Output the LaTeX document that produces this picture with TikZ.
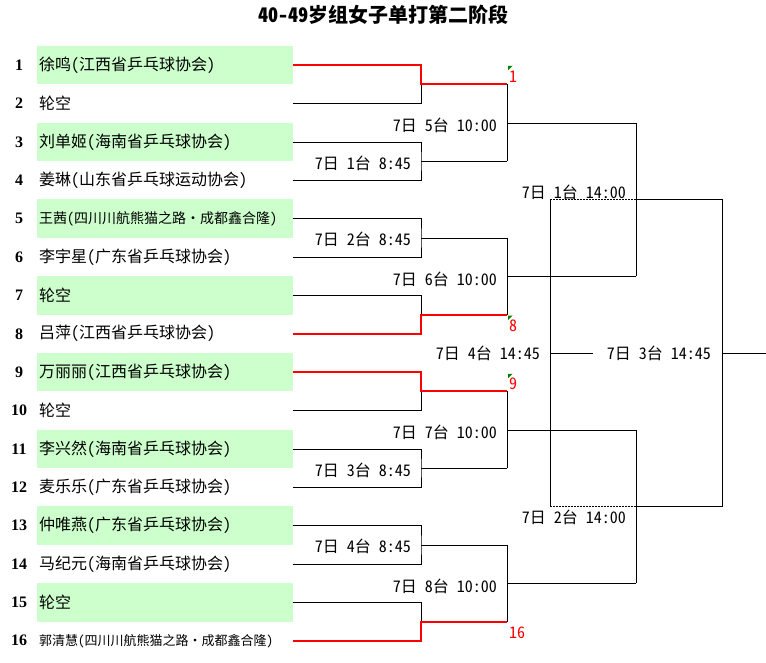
\documentclass[tikz,border=0pt]{standalone}
\usepackage{fontspec}
\setmainfont[CharacterWidth=Half]{Noto Sans CJK SC}
\newfontfamily\seedfont{Liberation Serif}
\usetikzlibrary{calc}
\definecolor{cellgreen}{HTML}{CCFFCC}
\definecolor{markgreen}{HTML}{008000}
\newcommand{\rowy}[1]{65.2+(#1-1)*38.37}

\begin{document}
\begin{tikzpicture}[x=1pt,y=-1pt,
    seed/.style={font=\seedfont\bfseries\fontsize{16}{18}\selectfont},
    player/.style={anchor=west,inner sep=0pt},
    timelabel/.style={anchor=east,inner sep=0pt,font=\fontsize{16}{18}\selectfont},
    winline/.style={red,line width=2pt},
    wintag/.style={anchor=west,inner sep=0pt,red,font=\fontsize{16}{18}\selectfont},
    flag/.style={fill=markgreen}]
  \useasboundingbox (0,0) rectangle (766,662);

  \node[font=\bfseries\fontsize{20}{22}\selectfont] (title) at (383,15) {40-49岁组女子单打第二阶段};

  % shaded rows
  \foreach \i in {1,3,...,15}
    \fill[cellgreen] (37,{\rowy{\i}-19.2}) rectangle (293,{\rowy{\i}+19.2});

  % players
  \foreach \i/\sz/\name in {1/16/徐鸣(江西省乒乓球协会), 2/16/轮空,
      3/16/刘单姬(海南省乒乓球协会), 4/16/姜琳(山东省乒乓球运动协会),
      5/14/王茜(四川川航熊猫之路・成都鑫合隆), 6/16/李宇星(广东省乒乓球协会),
      7/16/轮空, 8/16/吕萍(江西省乒乓球协会),
      9/16/万丽丽(江西省乒乓球协会), 10/16/轮空,
      11/16/李兴然(海南省乒乓球协会), 12/16/麦乐乐(广东省乒乓球协会),
      13/16/仲唯燕(广东省乒乓球协会), 14/16/马纪元(海南省乒乓球协会),
      15/16/轮空, 16/13/郭清慧(四川川航熊猫之路・成都鑫合隆)} {
    \node[seed] (n\i) at (19,{\rowy{\i}}) {\i};
    \node[player,font=\fontsize{\sz}{18}\selectfont] (p\i) at (39,{\rowy{\i}}) {\name};
    \coordinate (r\i) at (293,{\rowy{\i}});
  }

  % first round
  \foreach \k in {1,...,8} {
    \coordinate (q\k) at (421,{\rowy{2*\k-1}+38.37/2});
    \coordinate (s\k) at (507,{\rowy{2*\k-1}+38.37/2});
  }
  \foreach \a/\b/\k in {3/4/2, 5/6/3, 11/12/6, 13/14/7}
    \draw (r\a) -| (q\k) |- (r\b) (q\k) -- (s\k);

  % second round
  \foreach \j in {1,...,4} {
    \pgfmathtruncatemacro\a{2*\j-1}
    \pgfmathtruncatemacro\b{2*\j}
    \coordinate (t\j) at ($(s\a)!0.5!(s\b)$);
    \draw (s\a) -- (s\b) (t\j) -- ++(129,0) coordinate (u\j);
  }

  % semi-finals and final
  \draw (u1) -- (u2) (u3) -- (u4);
  \coordinate (v1) at ($(u1)!0.5!(u2)$);
  \coordinate (v2) at ($(u3)!0.5!(u4)$);
  \coordinate (b1) at ($(v1)+(-86,0)$);
  \coordinate (b2) at ($(v1)+(86,0)$);
  \coordinate (b3) at ($(v2)+(-86,0)$);
  \coordinate (b4) at ($(v2)+(86,0)$);
  \draw[dash pattern=on 1.5pt off 1.5pt] (b1) -- (v1) (b3) -- (v2);
  \draw (v1) -- (b2) -- (b4) -- (v2) (b1) -- (b3);
  \coordinate (c) at ($(b1)!0.5!(b3)$);
  \coordinate (f) at ($(b2)!0.5!(b4)$);
  \draw (c) -- ++(43,0);
  \draw (f) -- ++(44,0) coordinate (out);

  % byes and winners
  \foreach \w/\l/\k in {1/2/1, 8/7/4, 9/10/5, 16/15/8} {
    \draw (r\l) -| (q\k);
    \draw[winline] (r\w) -| (q\k) -- (s\k);
  }

  % match times
  \foreach \k/\txt in {2/7日 1台 8:45, 3/7日 2台 8:45, 6/7日 3台 8:45, 7/7日 4台 8:45}
    \node[timelabel] (m\k) at ($(q\k)+(-10,2)$) {\txt};
  \foreach \j/\txt in {1/7日 5台 10:00, 2/7日 6台 10:00, 3/7日 7台 10:00, 4/7日 8台 10:00}
    \node[timelabel] (w\j) at ($(t\j)+(-10,3)$) {\txt};
  \node[timelabel] (sf1) at ($(v1)+(-10,-7)$) {7日 1台 14:00};
  \node[timelabel] (sf2) at ($(v2)+(-10,11)$) {7日 2台 14:00};
  \node[timelabel] (third) at ($(c)+(-10,0)$) {7日 4台 14:45};
  \node[timelabel] (final) at ($(c)+(161,0)$) {7日 3台 14:45};

  % advancing seeds
  \node[wintag] (g1) at ($(s1)+(2,-8)$) {1};
  \node[wintag] (g8) at ($(s4)+(2,11)$) {8};
  \node[wintag] (g9) at ($(s5)+(2,-7.5)$) {9};
  \node[wintag] (g16) at ($(s8)+(2,11)$) {16};
  \foreach \k/\dy in {1/-18.5, 4/1, 5/-17.5}
    \fill[flag] ($(s\k)+(1,\dy)$) -- ++(4.5,0) -- ++(-4.5,4.5) -- cycle;
\end{tikzpicture}
\end{document}
